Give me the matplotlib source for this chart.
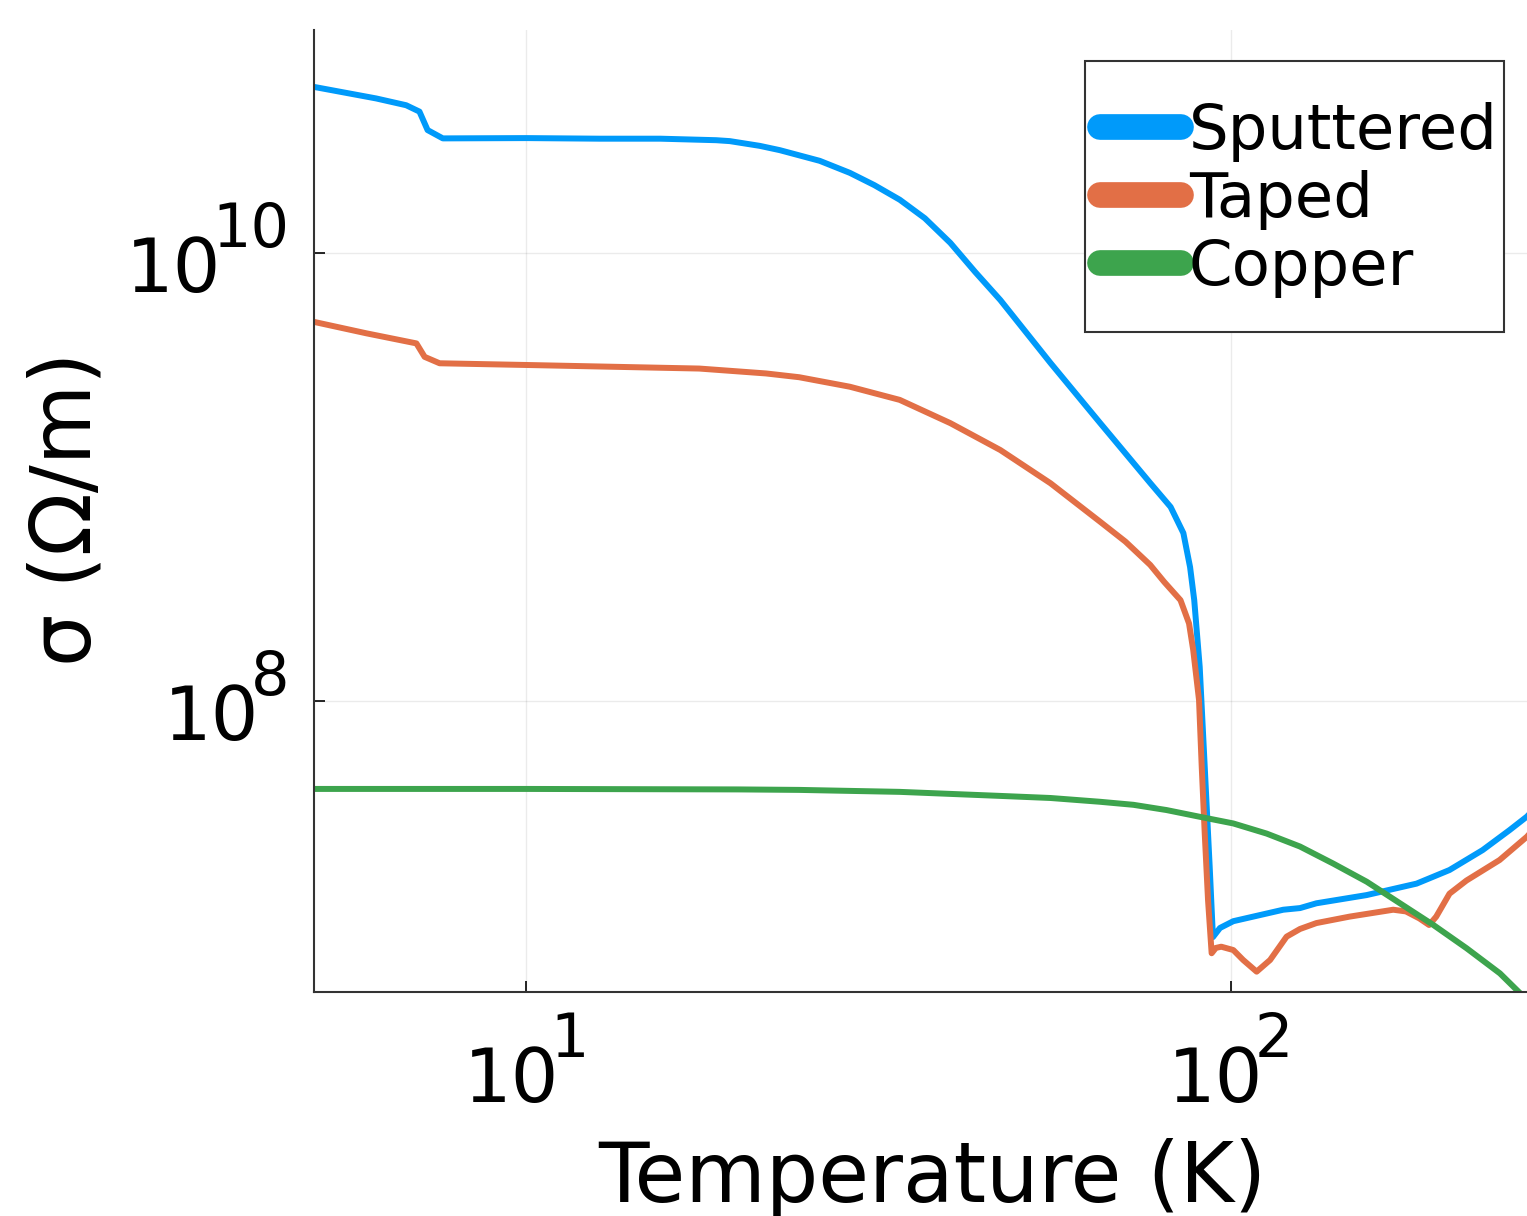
import numpy as np
import matplotlib
matplotlib.use('Agg')
import matplotlib.pyplot as plt
import matplotlib.transforms as mtransforms
from matplotlib.patches import Rectangle

# temperature (K) and sigma values
t_sputtered = [4.99, 6.12, 6.75, 7.05, 7.24, 7.61, 10.0, 12.7, 15.5, 18.6, 19.45, 21.45,
               22.9, 26.1, 28.8, 31.2, 33.9, 36.8, 40.0, 43.4, 47.1, 55.5, 65.3, 76.9,
               82.2, 85.7, 87.6, 88.8, 90.4, 91.9, 93.4, 94.4, 96.6, 100.9, 118.8, 125.5,
               132.4, 156.0, 183.7, 204.6, 228.0, 248.9, 263.6, 270.0]
s_sputtered = [5.52e10, 4.90e10, 4.57e10, 4.28e10, 3.54e10, 3.25e10, 3.26e10, 3.24e10,
               3.24e10, 3.19e10, 3.16e10, 3.01e10, 2.88e10, 2.58e10, 2.28e10, 2.01e10,
               1.73e10, 1.43e10, 1.11e10, 8.22e9, 6.17e9, 3.23e9, 1.74e9, 9.4e8, 7.35e8,
               5.62e8, 3.96e8, 2.82e8, 1.42e8, 5.07e7, 1.82e7, 8.83e6, 9.7e6, 1.04e7,
               1.17e7, 1.19e7, 1.25e7, 1.36e7, 1.53e7, 1.76e7, 2.16e7, 2.65e7, 3.05e7,
               3.3e7]

t_taped = [4.99, 5.93, 6.98, 7.17, 7.53, 10.2, 17.6, 21.9, 24.4, 28.8, 33.9, 40.0, 47.1,
           55.5, 65.3, 70.9, 76.9, 80.5, 84.9, 87.3, 88.5, 90.2, 91.0, 91.9, 92.9, 94.0,
           95.3, 97.0, 100.9, 104.2, 108.9, 113.8, 120.1, 125.5, 132.4, 147.6, 170.2,
           177.4, 185.4, 191.4, 195.9, 204.6, 216.3, 241.0, 263.6, 270.0]
s_taped = [4.93e9, 4.38e9, 3.95e9, 3.44e9, 3.22e9, 3.16e9, 3.05e9, 2.90e9, 2.79e9,
           2.53e9, 2.21e9, 1.74e9, 1.32e9, 9.38e8, 6.31e8, 5.15e8, 4.05e8, 3.40e8,
           2.82e8, 2.22e8, 1.69e8, 1.01e8, 5.09e7, 2.56e7, 1.29e7, 7.48e6, 7.9e6,
           8.0e6, 7.73e6, 6.98e6, 6.19e6, 6.98e6, 8.87e6, 9.6e6, 1.02e7, 1.09e7,
           1.17e7, 1.15e7, 1.07e7, 1.0e7, 1.09e7, 1.38e7, 1.58e7, 1.95e7, 2.48e7, 2.7e7]

t_copper = [4.99, 10.0, 20.0, 24.4, 33.9, 47.1, 55.5, 65.2, 72.8, 81.1, 90.5, 100.9,
            112.5, 125.5, 139.9, 156.1, 174.0, 194.1, 216.4, 241.3, 254.9, 270.0]
s_copper = [4.05e7, 4.05e7, 4.03e7, 4.01e7, 3.93e7, 3.77e7, 3.69e7, 3.55e7, 3.44e7,
            3.26e7, 3.04e7, 2.84e7, 2.56e7, 2.24e7, 1.88e7, 1.56e7, 1.25e7, 1.0e7,
            7.87e6, 6.08e6, 5.13e6, 4.3e6]

labels = ['Sputtered', 'Taped', 'Copper']
colors = ['#009AFA', '#E26F46', '#3DA44D']

x_ticks = [10, 100]
x_exps = ['1', '2']
y_ticks = [1e8, 1e10]
y_exps = ['8', '10']

plt.rcParams['font.family'] = 'DejaVu Sans'

fig = plt.figure(figsize=(15.27, 12.16), dpi=100)
ax = fig.add_axes([0.2056, 0.1845, 0.7944, 0.7908])

series = [(t_sputtered, s_sputtered), (t_taped, s_taped), (t_copper, s_copper)]
for (t, s), lab, c in zip(series, labels, colors):
    ax.plot(t, s, color=c, lw=4.3, label=lab, solid_joinstyle='round')

ax.set_xscale('log')
ax.set_yscale('log')
ax.set_xlim(4.993, 263.6)
ax.set_ylim(5.04e6, 9.9e10)

ax.set_xticks(x_ticks)
ax.set_yticks(y_ticks)
ax.minorticks_off()
ax.tick_params(direction='in', length=8, width=1.2, labelbottom=False, labelleft=False)
ax.grid(True, color='black', alpha=0.08, lw=1)

for side in ['top', 'right']:
    ax.spines[side].set_visible(False)
for side in ['left', 'bottom']:
    ax.spines[side].set_color('#333333')
    ax.spines[side].set_linewidth(1.5)

# power-of-ten tick labels with a large exponent
base_fs, exp_fs = 54, 43.5
renderer = fig.canvas.get_renderer()


def text_width(s, fs):
    t = fig.text(0, 0, s, fontsize=fs)
    w = t.get_window_extent(renderer).width
    t.remove()
    return w


wb = text_width('10', base_fs)
xtrans = mtransforms.blended_transform_factory(ax.transData, ax.transAxes)
for v, e in zip(x_ticks, x_exps):
    we = text_width(e, exp_fs)
    left = -(wb + we - 8) / 2
    ax.annotate('10', (v, 0), xycoords=xtrans, xytext=(left, -110),
                textcoords='offset pixels', fontsize=base_fs, ha='left', va='baseline')
    ax.annotate(e, (v, 0), xycoords=xtrans, xytext=(left + wb - 8, -65),
                textcoords='offset pixels', fontsize=exp_fs, ha='left', va='baseline')

ytrans = mtransforms.blended_transform_factory(ax.transAxes, ax.transData)
for v, e in zip(y_ticks, y_exps):
    we = text_width(e, exp_fs)
    ax.annotate(e, (0, v), xycoords=ytrans, xytext=(-25, 6),
                textcoords='offset pixels', fontsize=exp_fs, ha='right', va='baseline')
    ax.annotate('10', (0, v), xycoords=ytrans, xytext=(-25 - we + 9, -39),
                textcoords='offset pixels', fontsize=base_fs, ha='right', va='baseline')

ax.set_xlabel('Temperature (K)', fontsize=59.5)
ax.xaxis.label.set_va('baseline')
ax.xaxis.set_label_coords(0.5095, -0.2185)
ax.set_ylabel('σ (Ω/m)', fontsize=59.5)
ax.yaxis.label.set_rotation_mode('anchor')
ax.yaxis.label.set_va('baseline')
ax.yaxis.set_label_coords(-0.1838, 0.5026)

ax.add_patch(Rectangle((0.6356, 0.686), 0.3454, 0.2818, transform=ax.transAxes,
                       facecolor='white', edgecolor='#333333', lw=1.5, zorder=4))
leg = ax.legend(loc='upper left', bbox_to_anchor=(0.6476, 0.9255), fontsize=45,
                frameon=False, handlelength=1.3, handletextpad=0.13,
                labelspacing=0.13, borderpad=0, borderaxespad=0)
leg.set_zorder(5)
for line in leg.get_lines():
    line.set_linewidth(18.5)
    line.set_solid_capstyle('round')

fig.savefig('out.png', dpi=100)
